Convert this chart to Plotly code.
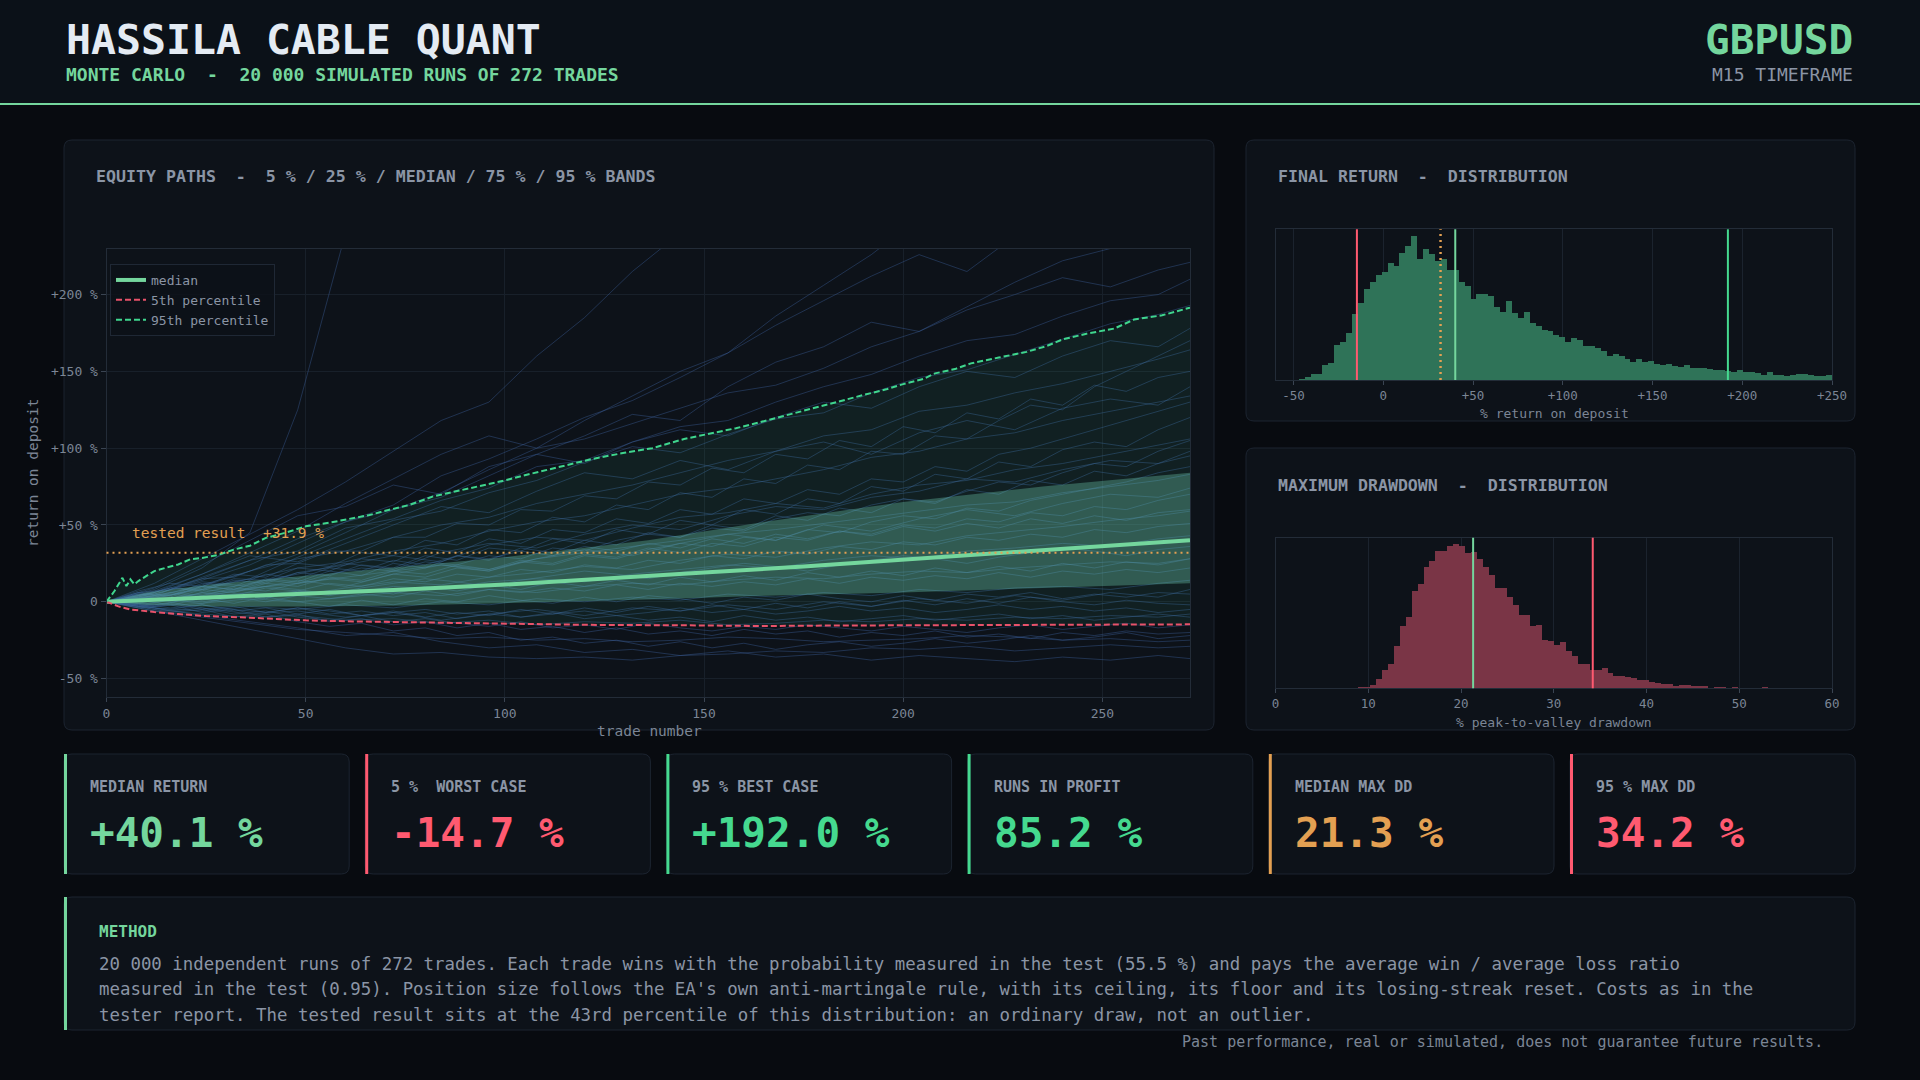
import plotly.graph_objects as go

# ---------------- DATA ----------------
TITLE = "HASSILA CABLE QUANT"
SUBTITLE = "MONTE CARLO  -  20 000 SIMULATED RUNS OF 272 TRADES"
SYMBOL = "GBPUSD"
TIMEFRAME = "M15 TIMEFRAME"

N_TRADES = 272
TESTED = 31.9
MEDIAN_RET = 40.1
P5_RET = -14.7
P95_RET = 192.0
IN_PROFIT = 85.2
MED_DD = 21.3
P95_DD = 34.2

# percentile curves of the equity paths (% return on deposit vs trade number)
P95_X = [0, 2, 4, 5, 6, 7, 8, 10, 12, 15, 18, 21, 24, 28, 32, 36, 40, 45, 50, 56, 61, 66, 71, 76, 82, 88, 95, 100, 106, 114,
         122, 130, 137, 145, 152, 158, 163, 170, 177, 184, 190, 196, 200, 205, 208, 213, 217, 224, 231, 236, 240, 246, 253,
         258, 265, 272]
P95_Y = [0, 7, 15.6, 10.2, 14.6, 11.3, 13.5, 16.8, 20, 22.2, 24.3, 27.6, 28.5, 30.5, 34, 36.5, 41.6, 45, 49.1, 51.5, 53.9,
         56.5, 59.9, 63, 68.6, 72, 76.2, 79, 83, 88, 93, 97, 100, 106, 109.7, 113, 116.2, 121, 126, 130.5, 134.6, 138.5,
         141.7, 145, 148.7, 151.5, 155.2, 159, 162.7, 166.5, 170.8, 174.5, 177.9, 183.8, 186.5, 191.5]

P5_X = [0, 3, 6, 9, 12, 18, 25, 36, 50, 62, 74, 87, 100, 120, 149, 165, 180, 200, 220, 240, 255, 272]
P5_Y = [0, -3, -5, -6, -6.7, -8, -9.3, -10.4, -12.1, -12.8, -13.2, -13.8, -14.3, -15, -15.4, -15.8, -15.5, -15.3, -15.5,
        -15.1, -14.9, -14.7]

MED_X = [0, 10, 25, 50, 75, 100, 125, 150, 175, 200, 225, 250, 272]
MED_Y = [0, 1, 2.5, 5.2, 8, 11.2, 14.8, 19, 23, 27.5, 32, 36.5, 40.1]

BAND_X = [0, 10, 25, 50, 75, 100, 136, 165, 200, 235, 272]
P75_Y = [0, 6, 11, 17, 23, 29, 40, 52, 65, 75, 84]
P25_Y = [0, -2, -3, -3, -2.5, -1, 1.5, 4, 6, 9, 12]

# a sample of individual simulated equity paths (every 12 trades)
SPAG_X = [0, 12, 24, 36, 48, 60, 72, 84, 96, 108, 120, 132, 144, 156, 168, 180, 192, 204, 216, 228, 240, 252, 264, 272]
PATH_A = [0, 8, 22, 45, 125, 240, 300, 340, 380, 420, 450, 480, 500, 520, 540, 560, 580, 600, 620, 640, 660, 680, 700, 710]
PATH_B = [0, 12, 28, 44, 60, 78, 98, 118, 130, 160, 185, 215, 240, 262, 250, 285, 300, 320, 330, 340, 350, 360, 370, 380]
PATH_C = [0, 6, 18, 32, 46, 64, 80, 96, 108, 100, 118, 134, 150, 162, 180, 196, 212, 226, 215, 238, 252, 246, 262, 270]
PATH_D = [0, 5, 14, 24, 38, 52, 60, 68, 82, 96, 108, 122, 118, 140, 156, 166, 182, 176, 192, 208, 222, 230, 246, 252]
PATH_E = [0, 4, 16, 27, 33, 48, 54, 66, 74, 88, 92, 104, 114, 118, 130, 140, 148, 160, 170, 174, 186, 196, 200, 210]
PATH_F = [0, 3, 11, 20, 28, 33, 42, 50, 55, 64, 70, 76, 84, 92, 98, 108, 112, 124, 128, 136, 142, 150, 158, 164]
PATH_G = [0, 2, 9, 15, 22, 26, 33, 38, 46, 52, 56, 63, 70, 74, 80, 86, 94, 98, 106, 110, 118, 124, 130, 134]
PATH_H = [0, 5, 13, 10, 19, 24, 30, 26, 37, 42, 40, 48, 55, 58, 64, 61, 70, 76, 79, 86, 90, 96, 102, 106]
PATH_I = [0, 1, 5, 9, 12, 16, 20, 24, 21, 28, 32, 36, 40, 44, 47, 51, 55, 59, 63, 65, 71, 75, 79, 83]
PATH_J = [0, -2, 3, 6, 4, 9, 13, 11, 16, 19, 23, 21, 27, 31, 29, 35, 39, 37, 43, 46, 49, 53, 56, 59]
PATH_K = [0, 2, 0, 4, 7, 5, 10, 8, 13, 15, 13, 18, 21, 24, 22, 27, 30, 28, 33, 35, 38, 36, 41, 43]
PATH_L = [0, -3, -1, 2, 0, 3, 6, 4, 8, 6, 10, 12, 11, 14, 16, 15, 18, 20, 19, 22, 24, 26, 25, 28]
PATH_M = [0, -4, -6, -3, -5, -2, -4, 0, -2, 2, 0, 3, 1, 5, 3, 6, 4, 8, 6, 9, 10, 8, 12, 14]
PATH_N = [0, -5, -8, -10, -9, -12, -11, -14, -12, -15, -13, -14, -12, -15, -14, -12, -13, -11, -12, -10, -11, -9, -10, -8]
PATH_O = [0, -6, -10, -14, -18, -20, -22, -24, -23, -25, -24, -26, -25, -23, -24, -26, -25, -24, -22, -23, -25, -24, -26, -25]
PATH_P = [0, -6, -12, -18, -24, -30, -34, -33, -36, -37, -36, -38, -35, -34, -32, -33, -30, -31, -29, -32, -30, -28, -30, -29]
PATH_Q = [0, 4, 10, 20, 31, 45, 60, 71, 86, 100, 106, 116, 126, 136, 141, 152, 166, 176, 190, 200, 211, 205, 216, 221]
PATH_R = [0, 6, 15, 27, 41, 52, 63, 82, 93, 106, 120, 131, 146, 162, 186, 206, 226, 250, 272, 262, 282, 300, 322, 332]
PATH_S = [0, 3, 8, 15, 29, 41, 53, 59, 71, 79, 91, 101, 97, 109, 119, 123, 136, 146, 151, 161, 171, 181, 187, 193]
PATH_T = [0, 7, 18, 30, 26, 38, 50, 62, 58, 72, 84, 80, 92, 86, 98, 104, 96, 110, 118, 112, 126, 132, 128, 140]
PATH_U = [0, -3, 4, 8, 14, 10, 18, 24, 20, 28, 34, 30, 38, 44, 40, 50, 46, 54, 60, 56, 64, 70, 68, 74]
PATH_V = [0, 2, -4, -8, -6, -10, -7, -12, -8, -5, -9, -4, -6, -2, -5, 0, -3, 2, -1, 4, 1, 6, 3, 8]
PATH_W = [0, 9, 24, 40, 56, 62, 76, 70, 88, 96, 90, 104, 112, 108, 120, 130, 126, 140, 150, 146, 160, 170, 166, 178]
PATH_X = [0, -1, 6, 12, 18, 25, 21, 32, 38, 35, 44, 50, 47, 56, 62, 60, 68, 72, 80, 78, 86, 92, 90, 98]
PATH_Y = [0, -4, -9, -13, -17, -22, -20, -26, -30, -28, -33, -31, -35, -32, -36, -34, -38, -35, -37, -39, -36, -38, -35, -37]
PATHS = [PATH_A, PATH_B, PATH_C, PATH_D, PATH_E, PATH_F, PATH_G, PATH_H, PATH_I, PATH_J, PATH_K, PATH_L, PATH_M,
         PATH_N, PATH_O, PATH_P, PATH_Q, PATH_R, PATH_S, PATH_T, PATH_U, PATH_V, PATH_W, PATH_X, PATH_Y]

# more sample paths, read every 8 trades (the dense core of the fan)
SPAG_X2 = [0, 8, 16, 24, 32, 40, 48, 56, 64, 72, 80, 88, 96, 104, 112, 120, 128, 136, 144, 152, 160, 168, 176, 184,
           192, 200, 208, 216, 224, 232, 240, 248, 256, 264, 272]
DENSE_1 = [0, 3, 1, 6, 4, 9, 7, 12, 10, 15, 13, 18, 16, 21, 19, 24, 22, 27, 25, 30, 28, 33, 31, 36, 34, 39, 37, 42, 40, 44, 42, 47, 45, 49, 51]
DENSE_2 = [0, -2, 1, -1, 3, 0, 4, 2, 5, 3, 7, 4, 8, 6, 9, 7, 11, 8, 12, 10, 13, 11, 15, 12, 16, 14, 17, 15, 19, 16, 20, 18, 21, 19, 22]
DENSE_3 = [0, -3, -1, -5, -3, -7, -4, -8, -6, -9, -7, -11, -8, -10, -7, -11, -9, -12, -10, -13, -9, -12, -10, -13, -11, -9, -12, -10, -8, -11, -9, -12, -10, -8, -10]
DENSE_4 = [0, 4, 2, 8, 6, 12, 10, 16, 14, 20, 18, 24, 21, 27, 25, 31, 29, 35, 32, 38, 36, 42, 40, 46, 44, 50, 48, 54, 52, 58, 56, 62, 60, 66, 70]
DENSE_5 = [0, 2, 5, 3, 7, 10, 8, 5, 9, 12, 15, 13, 10, 14, 17, 20, 18, 15, 19, 22, 25, 23, 20, 24, 27, 30, 28, 25, 29, 32, 35, 33, 30, 34, 36]
DENSE_6 = [0, -4, -2, -7, -5, -10, -8, -13, -11, -15, -13, -17, -14, -18, -16, -20, -17, -21, -19, -22, -18, -21, -19, -23, -20, -22, -19, -23, -21, -24, -20, -22, -19, -21, -20]
DENSE_7 = [0, 5, 3, 10, 8, 15, 13, 20, 17, 25, 22, 30, 27, 35, 32, 40, 37, 45, 42, 50, 47, 56, 53, 61, 58, 67, 64, 73, 70, 79, 76, 85, 82, 90, 95]
DENSE_8 = [0, 1, -2, 2, -1, 3, 0, -3, 1, -2, 2, 0, 4, 1, -1, 3, 0, 4, 2, -1, 3, 1, 5, 2, 0, 4, 1, 5, 3, 6, 2, 5, 3, 6, 5]
DENSE_9 = [0, 6, 4, 12, 10, 18, 15, 22, 20, 27, 24, 30, 28, 33, 30, 36, 33, 38, 35, 41, 38, 44, 41, 46, 43, 49, 46, 51, 48, 54, 51, 56, 53, 58, 60]
DENSE_10 = [0, -1, 3, 1, 5, 2, 7, 4, 8, 5, 10, 7, 11, 8, 13, 10, 14, 11, 16, 13, 17, 14, 19, 16, 20, 17, 22, 19, 23, 20, 25, 22, 26, 24, 28]
DENSE_11 = [0, 4, 9, 7, 14, 12, 19, 17, 24, 22, 30, 27, 35, 33, 41, 38, 47, 44, 53, 50, 60, 57, 67, 64, 75, 72, 83, 80, 91, 88, 99, 104, 101, 112, 120]
DENSE_12 = [0, -3, -5, -2, -6, -4, -8, -5, -9, -6, -10, -7, -9, -5, -8, -4, -7, -3, -6, -2, -5, -1, -4, 0, -3, 1, -2, 2, -1, 3, 0, -2, 1, -1, -2]
DENSE_13 = [0, 6, 8, 15, 16, 24, 25, 33, 33, 42, 42, 51, 50, 60, 59, 69, 67, 78, 76, 87, 84, 96, 93, 105, 101, 114, 110, 123, 119, 132, 128, 141, 137, 146, 150]
DENSE_14 = [0, 3, 9, 8, 15, 14, 22, 20, 28, 26, 35, 32, 41, 38, 47, 45, 54, 51, 60, 57, 67, 64, 73, 70, 80, 78, 88, 85, 96, 100, 106, 112, 118, 124, 130]
DENSE_15 = [0, 5, 4, 10, 8, 14, 12, 18, 22, 20, 26, 24, 30, 28, 35, 33, 40, 44, 42, 48, 46, 54, 58, 56, 63, 67, 65, 72, 78, 76, 84, 90, 88, 98, 105]
DENSE_16 = [0, -2, -6, -4, -8, -6, -10, -12, -9, -13, -11, -14, -16, -13, -17, -15, -18, -14, -17, -19, -16, -18, -15, -17, -19, -16, -18, -20, -17, -15, -18, -16, -14, -17, -15]
DENSE_17 = [0, -1, -4, -2, -5, -7, -4, -6, -9, -7, -5, -8, -6, -10, -8, -6, -9, -7, -4, -7, -5, -8, -6, -3, -6, -4, -7, -5, -2, -5, -3, -6, -4, -7, -5]
DENSE_18 = [0, 7, 12, 10, 18, 16, 25, 23, 32, 30, 40, 37, 47, 45, 55, 52, 63, 60, 71, 68, 80, 77, 89, 86, 98, 96, 108, 106, 118, 128, 125, 140, 150, 160, 170]
DENSE_19 = [0, 2, 6, 4, 9, 7, 12, 15, 13, 18, 16, 22, 20, 26, 24, 30, 28, 34, 38, 36, 42, 40, 47, 45, 52, 56, 54, 61, 59, 66, 70, 74, 78, 84, 88]
DENSE_20 = [0, -3, -7, -5, -10, -8, -13, -16, -14, -19, -17, -22, -20, -25, -23, -27, -25, -29, -26, -30, -27, -31, -28, -26, -29, -27, -24, -27, -25, -22, -25, -23, -20, -24, -22]
DENSE_PATHS = [DENSE_1, DENSE_2, DENSE_3, DENSE_4, DENSE_5, DENSE_6, DENSE_7, DENSE_8, DENSE_9, DENSE_10, DENSE_11,
               DENSE_12, DENSE_13, DENSE_14, DENSE_15, DENSE_16, DENSE_17, DENSE_18, DENSE_19, DENSE_20]

# final return distribution (bin start, bin width, bar heights)
RET_BIN_START = -47.3
RET_BIN_WIDTH = 3.3
RET_COUNTS = [2, 8, 17, 17, 44, 50, 105, 112, 141, 198, 231, 273, 294, 314, 324, 350, 340, 380, 400, 432,
              363, 393, 378, 357, 362, 328, 330, 293, 282, 243, 256, 258, 252, 219, 203, 236, 201, 186, 203, 169,
              162, 150, 145, 135, 128, 112, 124, 119, 100, 102, 94, 87, 72, 78, 70, 62, 54, 62, 54, 57,
              47, 45, 47, 42, 39, 44, 35, 35, 35, 31, 30, 30, 27, 24, 29, 22, 24, 19, 13, 23,
              13, 14, 12, 13, 17, 17, 14, 10, 11, 15]

# maximum drawdown distribution
DD_BIN_START = 8.87
DD_BIN_WIDTH = 0.64
DD_COUNTS = [3, 3, 10, 28, 55, 73, 127, 187, 214, 292, 313, 364, 382, 412, 412, 427, 433, 427, 406, 410,
             390, 364, 340, 302, 302, 275, 250, 220, 220, 188, 190, 145, 142, 130, 139, 112, 97, 73, 73, 57,
             55, 61, 46, 39, 37, 35, 32, 27, 25, 19, 16, 13, 13, 7, 10, 10, 7, 7, 7, 0,
             4, 4, 0, 4, 0, 0, 0, 0, 4]

EQ_YTICKS = [-50, 0, 50, 100, 150, 200]
EQ_YTEXT = ["-50 %", "0", "+50 %", "+100 %", "+150 %", "+200 %"]
EQ_XTICKS = [0, 50, 100, 150, 200, 250]
RET_TICKS = [-50, 0, 50, 100, 150, 200, 250]
RET_TEXT = ["-50", "0", "+50", "+100", "+150", "+200", "+250"]
DD_TICKS = [0, 10, 20, 30, 40, 50, 60]

KPI_LABELS = ["MEDIAN RETURN", "5 %  WORST CASE", "95 % BEST CASE", "RUNS IN PROFIT", "MEDIAN MAX DD", "95 % MAX DD"]
KPI_VALUES = ["+40.1 %", "-14.7 %", "+192.0 %", "85.2 %", "21.3 %", "34.2 %"]

METHOD_LINES = [
    "20 000 independent runs of 272 trades. Each trade wins with the probability measured in the test (55.5 %) and pays the average win / average loss ratio",
    "measured in the test (0.95). Position size follows the EA's own anti-martingale rule, with its ceiling, its floor and its losing-streak reset. Costs as in the",
    "tester report. The tested result sits at the 43rd percentile of this distribution: an ordinary draw, not an outlier.",
]
FOOTER = "Past performance, real or simulated, does not guarantee future results."

# ---------------- STYLE ----------------
W, H = 1920, 1080
FONT = "DejaVu Sans Mono"
BG = "#080b10"
HEADER_BG = "#0b1118"
CARD = "#0d1219"
CARD_LINE = "#1c2430"
GRID = "#18202a"
AXLINE = "#232c38"
TXT = "#8b95a5"
TICK = "#7b8595"
LIGHT_GREEN = "#74d69d"
GREEN = "#45d98f"
RED = "#ff5a70"
ORANGE = "#e3a052"
WHITE = "#e4ebf3"
KPI_COLORS = [LIGHT_GREEN, RED, GREEN, GREEN, ORANGE, RED]


def px(x):
    return x / W


def py(y):
    return 1 - y / H


def rrect_path(x0, y0, x1, y1, r):
    pts = [("M", [(x0 + r, y0)]), ("L", [(x1 - r, y0)]), ("Q", [(x1, y0), (x1, y0 + r)]), ("L", [(x1, y1 - r)]),
           ("Q", [(x1, y1), (x1 - r, y1)]), ("L", [(x0 + r, y1)]), ("Q", [(x0, y1), (x0, y1 - r)]),
           ("L", [(x0, y0 + r)]), ("Q", [(x0, y0), (x0 + r, y0)])]
    s = ""
    for cmd, ps in pts:
        s += cmd + " " + " ".join(f"{px(a):.6f},{py(b):.6f}" for a, b in ps) + " "
    return s + "Z"


shapes = []
annotations = []


def card(x0, y0, x1, y1, fill=CARD, line=CARD_LINE, r=8):
    shapes.append(dict(type="path", path=rrect_path(x0, y0, x1, y1, r), xref="paper", yref="paper",
                       fillcolor=fill, line=dict(color=line, width=1), layer="below"))


def rect(x0, y0, x1, y1, fill):
    shapes.append(dict(type="rect", x0=px(x0), x1=px(x1), y0=py(y1), y1=py(y0), xref="paper", yref="paper",
                       fillcolor=fill, line=dict(width=0), layer="below"))


def text(x, y, s, size, color, bold=False, anchor="left", angle=0):
    annotations.append(dict(x=px(x), y=py(y), xref="paper", yref="paper", text=f"<b>{s}</b>" if bold else s,
                            showarrow=False, xanchor=anchor, yanchor="middle", textangle=angle,
                            font=dict(family=FONT, size=size, color=color)))


# header
rect(0, 0, W, 103, HEADER_BG)
rect(0, 103, W, 105, LIGHT_GREEN)
text(64, 40, TITLE, 41.5, WHITE, bold=True)
text(64, 75, SUBTITLE, 18, LIGHT_GREEN, bold=True)
text(1855, 40, SYMBOL, 41, LIGHT_GREEN, bold=True, anchor="right")
text(1855, 75, TIMEFRAME, 18, TXT, anchor="right")

# panels
card(64, 140, 1214, 730)
card(1246, 140, 1855, 421)
card(1246, 448, 1855, 730)
text(94, 176.5, "EQUITY PATHS  -  5 % / 25 % / MEDIAN / 75 % / 95 % BANDS", 16.6, TXT, bold=True)
text(1276, 176.5, "FINAL RETURN  -  DISTRIBUTION", 16.6, TXT, bold=True)
text(1276, 485, "MAXIMUM DRAWDOWN  -  DISTRIBUTION", 16.6, TXT, bold=True)

# axis titles
text(649, 731, "trade number", 14.5, TICK, anchor="center")
text(33, 473, "return on deposit", 14.5, TICK, anchor="center", angle=-90)
text(1554, 413, "% return on deposit", 13, TICK, anchor="center")
text(1554, 722, "% peak-to-valley drawdown", 13, TICK, anchor="center")

# KPI cards
KW, KG = 285.2, 16
for i, (lab, val) in enumerate(zip(KPI_LABELS, KPI_VALUES)):
    x0 = 64 + i * (KW + KG)
    card(x0, 754, x0 + KW, 874)
    rect(x0, 754, x0 + 3, 874, KPI_COLORS[i])
    text(x0 + 24, 787, lab, 15, TXT, bold=True)
    text(x0 + 24, 833, val, 41, KPI_COLORS[i], bold=True)

# method box
card(64, 897, 1855, 1030)
rect(64, 897, 67, 1030, LIGHT_GREEN)
text(97, 931, "METHOD", 16, LIGHT_GREEN, bold=True)
for j, ln in enumerate(METHOD_LINES):
    text(97, 963.5 + j * 25.8, ln, 17.4, TXT)
text(1825, 1042, FOOTER, 15, TICK, anchor="right")

# ---------------- TRACES ----------------
fig = go.Figure()
SPAG_STYLE = dict(color="rgba(60,96,155,0.42)", width=1)
for p in PATHS:
    fig.add_trace(go.Scatter(x=SPAG_X, y=p, mode="lines", line=SPAG_STYLE,
                             hoverinfo="skip", showlegend=False, xaxis="x", yaxis="y"))
for p in DENSE_PATHS:
    fig.add_trace(go.Scatter(x=SPAG_X2, y=p, mode="lines", line=SPAG_STYLE,
                             hoverinfo="skip", showlegend=False, xaxis="x", yaxis="y"))
fig.add_trace(go.Scatter(x=P5_X, y=P5_Y, mode="lines", line=dict(width=0), showlegend=False, hoverinfo="skip"))
fig.add_trace(go.Scatter(x=P95_X, y=P95_Y, mode="lines", line=dict(width=0), fill="tonexty",
                         fillcolor="rgba(61,220,151,0.075)", showlegend=False, hoverinfo="skip"))
fig.add_trace(go.Scatter(x=BAND_X, y=P25_Y, mode="lines", line=dict(width=0), showlegend=False, hoverinfo="skip"))
fig.add_trace(go.Scatter(x=BAND_X, y=P75_Y, mode="lines", line=dict(width=0), fill="tonexty",
                         fillcolor="rgba(110,205,175,0.34)", showlegend=False, hoverinfo="skip"))
fig.add_trace(go.Scatter(x=MED_X, y=MED_Y, mode="lines", name="median",
                         line=dict(color=LIGHT_GREEN, width=4)))
fig.add_trace(go.Scatter(x=P5_X, y=P5_Y, mode="lines", name="5th percentile",
                         line=dict(color="#e8526a", width=2, dash="6px,3px")))
fig.add_trace(go.Scatter(x=P95_X, y=P95_Y, mode="lines", name="95th percentile",
                         line=dict(color="#3fd68e", width=2, dash="6px,3px")))

ret_x = [RET_BIN_START + (i + 0.5) * RET_BIN_WIDTH for i in range(len(RET_COUNTS))]
fig.add_trace(go.Bar(x=ret_x, y=RET_COUNTS, width=RET_BIN_WIDTH, marker=dict(color="#2f7358", line=dict(width=0)),
                     showlegend=False, xaxis="x2", yaxis="y2", hoverinfo="skip"))
dd_x = [DD_BIN_START + (i + 0.5) * DD_BIN_WIDTH for i in range(len(DD_COUNTS))]
fig.add_trace(go.Bar(x=dd_x, y=DD_COUNTS, width=DD_BIN_WIDTH, marker=dict(color="#7a3546", line=dict(width=0)),
                     showlegend=False, xaxis="x3", yaxis="y3", hoverinfo="skip"))

# reference lines
shapes.append(dict(type="line", xref="x domain", yref="y", x0=0, x1=1, y0=TESTED, y1=TESTED,
                   line=dict(color=ORANGE, width=2, dash="2px,4px")))
annotations.append(dict(x=6, y=45, xref="x", yref="y", text=f"tested result  +{TESTED} %", showarrow=False,
                        xanchor="left", yanchor="middle", font=dict(family=FONT, size=14.5, color=ORANGE)))
for v, c, d in [(P5_RET, RED, "solid"), (TESTED, ORANGE, "2px,4px"), (MEDIAN_RET, LIGHT_GREEN, "solid"),
                (P95_RET, GREEN, "solid")]:
    shapes.append(dict(type="line", xref="x2", yref="y2 domain", x0=v, x1=v, y0=0, y1=1,
                       line=dict(color=c, width=2.5 if d != "solid" else 2, dash=d)))
for v, c in [(MED_DD, LIGHT_GREEN), (P95_DD, RED)]:
    shapes.append(dict(type="line", xref="x3", yref="y3 domain", x0=v, x1=v, y0=0, y1=1,
                       line=dict(color=c, width=2)))

axis_common = dict(showline=True, linecolor=AXLINE, mirror=True, gridcolor=GRID, zeroline=False,
                   ticks="outside", ticklen=5, tickcolor="#3a4452", automargin=False,
                   tickfont=dict(family=FONT, size=13, color=TICK))
hist_x = {**axis_common, "tickfont": dict(family=FONT, size=12.5, color=TICK), "ticklen": 4,
          "gridcolor": "#1b232e", "layer": "above traces"}
hist_y = dict(range=[0, 452], showticklabels=False, showgrid=False, zeroline=False, automargin=False,
              showline=True, linecolor=AXLINE, mirror=True, ticks="")

fig.update_layout(
    width=W, height=H, autosize=False, margin=dict(l=0, r=0, t=0, b=0, pad=0, autoexpand=False),
    paper_bgcolor=BG, plot_bgcolor="rgba(0,0,0,0)",
    font=dict(family=FONT, color=TXT),
    showlegend=True,
    legend=dict(x=px(110), y=py(264), xanchor="left", yanchor="top", bgcolor="rgba(13,18,25,0.85)",
                bordercolor="#1f2835", borderwidth=1, font=dict(family=FONT, size=13, color=TXT),
                traceorder="normal", tracegroupgap=0, itemwidth=30),
    xaxis=dict(domain=[px(106.5), px(1190)], anchor="y", range=[0, N_TRADES], tickvals=EQ_XTICKS,
               **{**axis_common, "ticklen": 4}),
    yaxis=dict(domain=[py(697), py(248.5)], anchor="x", range=[-62, 230], tickvals=EQ_YTICKS, ticktext=EQ_YTEXT,
               **axis_common),
    xaxis2=dict(domain=[px(1275.6), px(1832)], anchor="y2", range=[-60, 250], tickvals=RET_TICKS, ticktext=RET_TEXT,
                **hist_x),
    yaxis2=dict(domain=[py(380), py(229.3)], anchor="x2", **hist_y),
    xaxis3=dict(domain=[px(1275.6), px(1832)], anchor="y3", range=[0, 60], tickvals=DD_TICKS, **hist_x),
    yaxis3=dict(domain=[py(688.3), py(537.7)], anchor="x3", **hist_y),
    bargap=0,
    shapes=shapes,
    annotations=annotations,
)

POST = ("document.documentElement.style.margin='0';document.documentElement.style.overflow='hidden';"
        "document.body.style.margin='0';document.body.style.padding='0';"
        "document.body.style.background='#080b10';document.body.style.overflow='hidden';")

fig.write_html("out.html", config={"displayModeBar": False, "responsive": False}, post_script=POST)
